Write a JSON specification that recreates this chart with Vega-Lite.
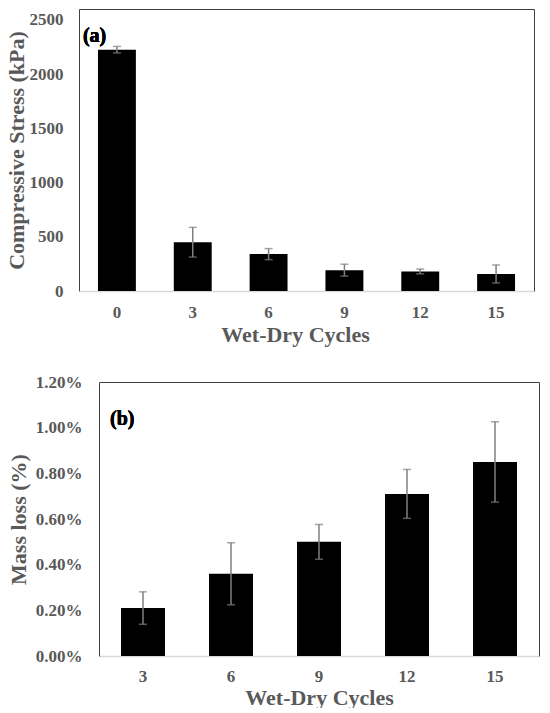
{
  "$schema": "https://vega.github.io/schema/vega-lite/v6.json",
  "padding": {"left": 4, "top": 8, "right": 8, "bottom": 0},
  "background": "white",
  "config": {
    "font": "Liberation Serif",
    "view": {"stroke": "#404040", "strokeWidth": 1},
    "axis": {
      "labelFont": "Liberation Serif",
      "labelFontWeight": "bold",
      "labelColor": "#595959",
      "titleFont": "Liberation Serif",
      "titleFontWeight": "bold",
      "titleColor": "#595959",
      "grid": false,
      "ticks": false
    }
  },
  "spacing": 27,
  "vconcat": [
    {
      "width": 455,
      "height": 282,
      "data": {"values": [
        {"cycles": "0", "stress": 2225, "err": 30},
        {"cycles": "3", "stress": 450, "err": 137},
        {"cycles": "6", "stress": 340, "err": 51},
        {"cycles": "9", "stress": 192, "err": 55},
        {"cycles": "12", "stress": 180, "err": 22},
        {"cycles": "15", "stress": 157, "err": 83}
      ]},
      "encoding": {
        "x": {"field": "cycles", "type": "ordinal", "sort": null,
          "scale": {"paddingInner": 0.5, "paddingOuter": 0.25},
          "axis": {"title": "Wet-Dry Cycles", "labelAngle": 0, "labelFontSize": 17, "labelPadding": 13, "titleFontSize": 22, "titlePadding": 4, "titleX": 216, "domainColor": "#d9d9d9", "domainWidth": 1.5}}
      },
      "layer": [
        {"mark": {"type": "bar", "color": "black"},
          "encoding": {"y": {"field": "stress", "type": "quantitative", "title": "Compressive Stress (kPa)", "scale": {"domain": [0, 2500]},
            "axis": {"values": [0, 500, 1000, 1500, 2000, 2500], "format": "d", "labelFontSize": 17, "labelPadding": 16, "titleFontSize": 22, "titlePadding": 1, "domain": false}}}},
        {"mark": {"type": "errorbar", "color": "#7f7f7f", "thickness": 1.5, "ticks": {"size": 8, "thickness": 1.5}},
          "encoding": {"y": {"field": "stress", "type": "quantitative", "title": "Compressive Stress (kPa)"}, "yError": {"field": "err"}}},
        {"mark": {"type": "text", "text": "(a)", "align": "left", "baseline": "alphabetic", "dx": -15, "dy": 22, "fontSize": 20, "fontWeight": "bold", "font": "Liberation Serif", "color": "black"},
          "encoding": {"x": {"datum": "0", "bandPosition": 0}, "y": {"datum": 2500}}}
      ]
    },
    {
      "width": 460,
      "height": 274,
      "view": {"stroke": null},
      "data": {"values": [
        {"cycles": "3", "loss": 0.0021, "err": 0.00071},
        {"cycles": "6", "loss": 0.0036, "err": 0.00136},
        {"cycles": "9", "loss": 0.0050, "err": 0.00076},
        {"cycles": "12", "loss": 0.0071, "err": 0.00107},
        {"cycles": "15", "loss": 0.0085, "err": 0.00176}
      ]},
      "layer": [
        {"mark": {"type": "bar", "color": "black"},
          "encoding": {
            "x": {"field": "cycles", "type": "ordinal", "sort": null, "title": "Wet-Dry Cycles",
              "scale": {"range": [20, 460], "paddingInner": 0.5, "paddingOuter": 0.25},
              "axis": {"orient": "bottom", "labelAngle": 0, "labelFontSize": 17, "labelPadding": 12, "titleFontSize": 22, "titlePadding": 3, "domainColor": "#d9d9d9", "domainWidth": 1.5}},
            "y": {"field": "loss", "type": "quantitative", "title": "Mass loss (%)", "scale": {"domain": [0, 0.012]},
              "axis": {"orient": "left", "offset": -20, "values": [0, 0.002, 0.004, 0.006, 0.008, 0.01, 0.012], "format": ".2%", "labelFontSize": 17, "labelPadding": 17, "titleFontSize": 22, "titlePadding": 5, "domain": true, "domainColor": "#404040", "domainWidth": 1}}}},
        {"mark": {"type": "errorbar", "color": "#7f7f7f", "thickness": 1.5, "ticks": {"size": 8, "thickness": 1.5}},
          "encoding": {
            "x": {"field": "cycles", "type": "ordinal", "sort": null, "axis": null},
            "y": {"field": "loss", "type": "quantitative", "axis": null}, "yError": {"field": "err"}}},
        {"mark": {"type": "text", "text": "(b)", "align": "left", "baseline": "alphabetic", "dx": -11, "dy": 43, "fontSize": 20, "fontWeight": "bold", "font": "Liberation Serif", "color": "black"},
          "encoding": {
            "x": {"datum": "3", "type": "ordinal", "bandPosition": 0,
              "axis": {"orient": "top", "labels": false, "title": null, "ticks": false, "domain": true, "domainColor": "#404040", "domainWidth": 1}},
            "y": {"datum": 0.012, "type": "quantitative",
              "axis": {"orient": "right", "labels": false, "title": null, "ticks": false, "domain": true, "domainColor": "#404040", "domainWidth": 1}}}}
      ]
    }
  ]
}
